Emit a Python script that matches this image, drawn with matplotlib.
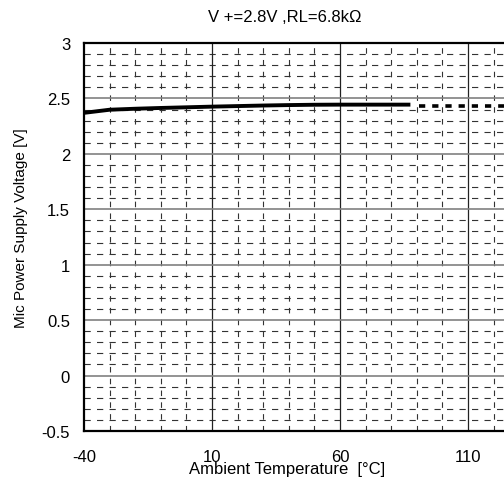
import numpy as np
import matplotlib
matplotlib.use("Agg")
import matplotlib.pyplot as plt

plt.rcParams['font.family'] = ['Liberation Sans', 'DejaVu Sans']
plt.rcParams['lines.scale_dashes'] = False

# measured curve (solid) and extrapolated part (dashed)
temp = [-40, -30, -20, -10, 0, 10, 20, 30, 40, 50, 60, 70, 80, 87.5]
volt = [2.37, 2.398, 2.407, 2.414, 2.42, 2.426, 2.431, 2.436, 2.44, 2.443, 2.444, 2.444, 2.444, 2.444]
temp_ext = [91, 125]
volt_ext = [2.435, 2.435]

x_ticks = [-40, 10, 60, 110]
y_ticks = [-0.5, 0, 0.5, 1, 1.5, 2, 2.5, 3]
y_ticklabels = ['-0.5', '0', '0.5', '1', '1.5', '2', '2.5', '3']

W, H = 504, 481
fig = plt.figure(figsize=(W / 100, H / 100), dpi=100)
ax = fig.add_axes([84 / W, 1 - 432 / H, 422.4 / W, 388 / H])
ax.set_xlim(-40, 125)
ax.set_ylim(-0.5, 3)

# minor dashed grid
for t in np.arange(-30, 125, 10):
    if t in x_ticks:
        continue
    ax.axvline(t, color='#333333', lw=0.8, dashes=(4, 4.5), zorder=1)
for v in np.arange(-0.4, 3.0, 0.1):
    if abs(v * 2 - round(v * 2)) < 1e-6:
        continue
    ax.axhline(v, color='#333333', lw=0.8, dashes=(4.5, 4.5), zorder=1)

# major grid
for t in x_ticks[1:]:
    ax.axvline(t, color='#222222', lw=0.9, zorder=2)
for v in y_ticks[1:-1]:
    ax.axhline(v, color='#808080', lw=1.2, zorder=2)

ax.plot(temp, volt, color='black', lw=2.8, solid_capstyle='butt', zorder=4)
ax.plot(temp_ext, volt_ext, color='black', lw=2.6, dashes=(4.5, 5), zorder=4)

for side in ['top', 'bottom', 'left']:
    ax.spines[side].set_linewidth(1.6)
ax.spines['right'].set_visible(False)

ax.set_xticks(x_ticks)
ax.set_xticklabels([str(t) for t in x_ticks])
ax.set_yticks(y_ticks)
ax.set_yticklabels(y_ticklabels)
ax.tick_params(length=0, labelsize=12)
ax.tick_params(axis='x', pad=13)
ax.tick_params(axis='y', pad=10)

fig.text(287 / W, 1 - 470 / H, 'Ambient Temperature  [°C]', ha='center', va='center', fontsize=12)
fig.text(21 / W, 1 - 228 / H, 'Mic Power Supply Voltage [V]', ha='center', va='center',
         rotation=90, fontsize=11)
fig.text(285 / W, 1 - 18 / H, 'V +=2.8V ,RL=6.8kΩ', ha='center', va='center', fontsize=12)

fig.savefig('out.png', dpi=100)
